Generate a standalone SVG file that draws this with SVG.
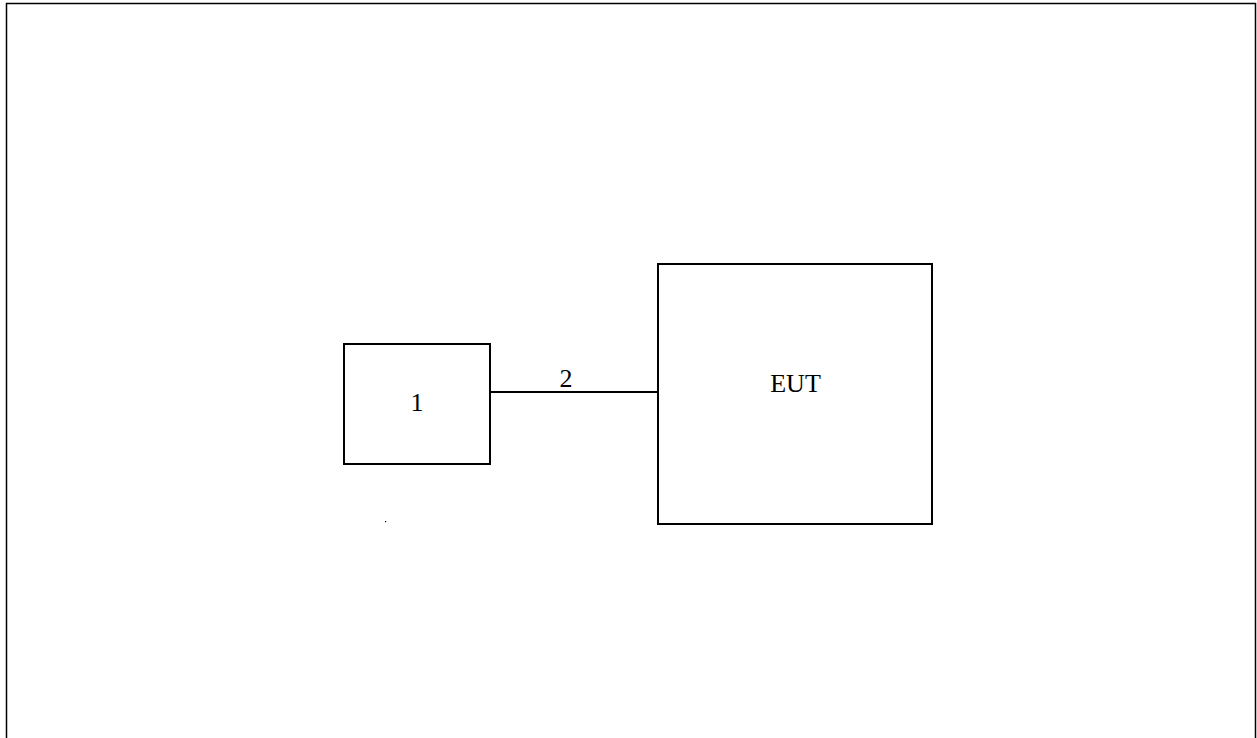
<svg xmlns="http://www.w3.org/2000/svg" width="1257" height="738" viewBox="0 0 1257 738">
<style>
.box{fill:#fff;stroke:#000;stroke-width:2}
.lbl{font-family:"Liberation Serif",serif;font-size:26px;fill:#000;text-anchor:middle}
.wire{stroke:#000;stroke-width:2;fill:none}
</style>
<rect x="0" y="0" width="1257" height="738" fill="#fff"/>
<path d="M6.5,740 V3.5 H1255.5 V740" fill="none" stroke="#000" stroke-width="1.5"/>
<g id="connectors">
<line class="wire" x1="490" y1="392" x2="658" y2="392"/>
</g>
<g id="node1">
<rect class="box" x="344" y="344" width="146" height="120"/>
<text class="lbl" x="417" y="411">1</text>
</g>
<g id="eut">
<rect class="box" x="658" y="264" width="274" height="260"/>
<text class="lbl" x="795.5" y="392">EUT</text>
</g>
<text class="lbl" x="566" y="387">2</text>
<rect x="385" y="521" width="1.2" height="1.2" fill="#000"/>
</svg>
